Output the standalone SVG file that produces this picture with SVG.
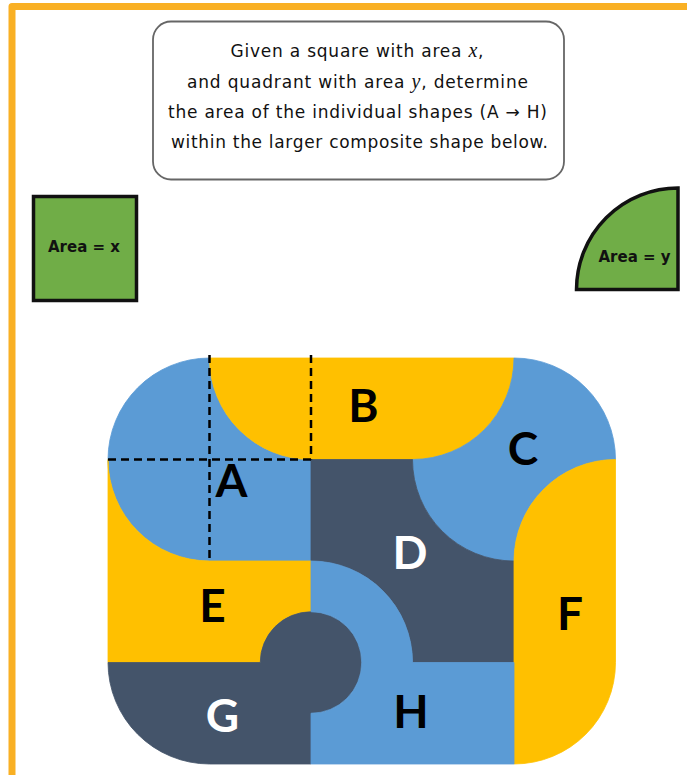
<svg xmlns="http://www.w3.org/2000/svg" width="687" height="775" viewBox="0 0 687 775">
<style>
.y{fill:#FFC000;stroke:#FFC000;stroke-width:0.8}
.b{fill:#5B9BD5;stroke:#5B9BD5;stroke-width:0.8}
.d{fill:#44546A;stroke:#44546A;stroke-width:0.8}
.lbl{font-family:Lato,"Open Sans",sans-serif;font-weight:bold;font-size:46px;text-anchor:middle}
.q{font-family:"DejaVu Sans",Verdana,sans-serif;font-size:17px;fill:#111;text-anchor:middle}
.m{font-family:"Liberation Serif",serif;font-style:italic;font-size:20px}
.sm{font-family:"DejaVu Sans",sans-serif;font-weight:bold;font-size:15px;fill:#111;text-anchor:middle}
.dash{stroke:#000;stroke-width:2.5;stroke-dasharray:8 5;fill:none}
</style>
<rect width="687" height="775" fill="#fff"/>
<path d="M12,790 L12,6.5 L700,6.5" fill="none" stroke="#F9B024" stroke-width="7" stroke-linejoin="round"/>
<g id="question">
<rect x="153" y="21.5" width="411" height="158" rx="18" fill="#fff" stroke="#666" stroke-width="1.8"/>
<text class="q" x="357" y="57" textLength="253">Given a square with area <tspan class="m">x</tspan>,</text>
<text class="q" x="357.5" y="88" textLength="341">and quadrant with area <tspan class="m">y</tspan>, determine</text>
<text class="q" x="357.5" y="118" textLength="379">the area of the individual shapes (A → H)</text>
<text class="q" x="359.5" y="148" textLength="377">within the larger composite shape below.</text>
</g>
<g id="square">
<rect x="33.5" y="196.5" width="103" height="104" fill="#70AD47" stroke="#111" stroke-width="3.5"/>
<text class="sm" x="84" y="252">Area = x</text>
</g>
<g id="quadrant">
<path d="M576.5,289.5 A101.5,101.5 0 0 1 678,188 L678,289.5 Z" fill="#70AD47" stroke="#111" stroke-width="3.5" stroke-linejoin="miter"/>
<text class="sm" x="634.5" y="262">Area = y</text>
</g>
<g id="A"><path class="b" d="M108,459.5 A101.5,101.5 0 0 1 209.5,358 A101.5,101.5 0 0 0 311,459.5 L311,561 L209.5,561 A101.5,101.5 0 0 1 108,459.5 Z"/></g>
<g id="B"><path class="y" d="M209.5,358 L514,358 A101.5,101.5 0 0 1 412.5,459.5 L311,459.5 A101.5,101.5 0 0 1 209.5,358 Z"/></g>
<g id="C"><path class="b" d="M514,358 A101.5,101.5 0 0 1 615.5,459.5 A101.5,101.5 0 0 0 514,561 A101.5,101.5 0 0 1 412.5,459.5 A101.5,101.5 0 0 0 514,358 Z"/></g>
<g id="D"><path class="d" d="M311,459.5 L412.5,459.5 A101.5,101.5 0 0 0 514,561 L514,662.5 L412.5,662.5 A101.5,101.5 0 0 0 311,561 Z"/></g>
<g id="E"><path class="y" d="M108,459.5 A101.5,101.5 0 0 0 209.5,561 L311,561 L311,611.75 A50.75,50.75 0 0 0 260.25,662.5 L108,662.5 Z"/></g>
<g id="F"><path class="y" d="M615.5,459.5 L615.5,662.5 A101.5,101.5 0 0 1 514,764 L514,561 A101.5,101.5 0 0 1 615.5,459.5 Z"/></g>
<g id="G"><path class="d" d="M108,662.5 L260.25,662.5 A50.75,50.75 0 1 1 311,713.25 L311,764 L209.5,764 A101.5,101.5 0 0 1 108,662.5 Z"/></g>
<g id="H"><path class="b" d="M311,561 A101.5,101.5 0 0 1 412.5,662.5 L514,662.5 L514,764 L311,764 L311,713.25 A50.75,50.75 0 0 0 311,611.75 Z"/></g>
<g id="connectors">
<path class="dash" d="M209.5,355 L209.5,561"/>
<path class="dash" d="M311,355 L311,459.5"/>
<path class="dash" d="M108,459.5 L311,459.5"/>
</g>
<g id="labels">
<text class="lbl" x="231.5" y="497" fill="#000">A</text>
<text class="lbl" x="363.5" y="422" fill="#000">B</text>
<text class="lbl" x="523" y="465" fill="#000">C</text>
<text class="lbl" x="410" y="569" fill="#fff">D</text>
<text class="lbl" x="212.5" y="622" fill="#000">E</text>
<text class="lbl" x="570" y="630" fill="#000">F</text>
<text class="lbl" x="222.5" y="732" fill="#fff">G</text>
<text class="lbl" x="411" y="728" fill="#000">H</text>
</g>
</svg>
